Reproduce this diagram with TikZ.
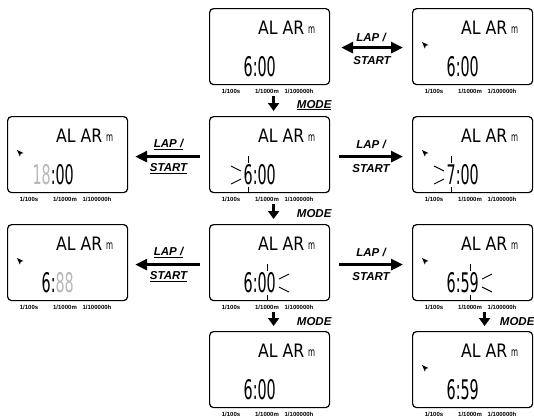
\documentclass[tikz,border=0pt]{standalone}
\usepackage{fontspec}
\usetikzlibrary{arrows.meta,calc}
\newfontfamily\lcdtime[FakeStretch=0.53]{DejaVu Sans}
\newfontfamily\lcdalarm[FakeStretch=0.85]{DejaVu Sans}
\newfontfamily\lcdm[FakeStretch=0.6]{DejaVu Sans}
\newfontfamily\lblfont{Liberation Sans}
\definecolor{lcdgray}{gray}{0.72}
\newcommand\ulbl[1]{\setbox0\hbox{#1}\rlap{\rule[-2.2pt]{\wd0}{1.1pt}}\box0}
\tikzset{
  lcdbox/.style={draw, line width=1.2pt, rounded corners=4pt, minimum width=120pt,
    minimum height=76pt, inner sep=0pt, anchor=north west},
  alarmtxt/.style={font=\lcdalarm\fontsize{18.5}{18.5}\selectfont, inner sep=0pt, anchor=base west},
  mtxt/.style={font=\lcdm\fontsize{12}{12}\selectfont, inner sep=0pt, anchor=base west},
  timetxt/.style={font=\lcdtime\fontsize{27}{27}\selectfont, inner sep=0pt, anchor=base east},
  foot/.style={font=\lblfont\bfseries\fontsize{6}{6.5}\selectfont, inner sep=0pt, anchor=base},
  lbl/.style={font=\lblfont\bfseries\itshape\fontsize{11.5}{12}\selectfont, inner sep=0pt},
  harrow/.style={line width=3.6pt, -{Triangle[length=12pt,width=11pt]}},
  dblarrow/.style={line width=3.6pt, {Triangle[length=12pt,width=11pt]}-{Triangle[length=12pt,width=11pt]}},
  varrow/.style={line width=3pt, -{Triangle[length=8pt,width=11pt]}},
  ray/.style={line width=0.9pt},
}
% name, x, y, time text, extras (drawn in box-local coordinates)
\newcommand\lcdpanel[5]{%
  \node[lcdbox] (#1) at (#2,#3) {};
  \begin{scope}[shift={(#2,#3)}]
    \node[alarmtxt] (#1al) at (49,26) {AL AR};
    \node[mtxt] (#1m) at (99,25) {m};
    \node[timetxt] (#1t) at (67,68) {#4};
    \node[foot] (#1f1) at (22,85) {1/100s};
    \node[foot] (#1f2) at (58,85) {1/1000m};
    \node[foot] (#1f3) at (90,85) {1/100000h};
    #5
  \end{scope}}
\newcommand\lcdcursor{\fill (10,34) -- (16.5,37) -- (13.8,37.8) -- (12.8,40.5) -- cycle;}
\newcommand\blinkleft{%
  \draw[ray] (32,55) -- (22,50); \draw[ray] (32,63) -- (22,68);
  \draw[ray] (39,40) -- (39,47); \draw[ray] (39,71) -- (39,77);}
\newcommand\blinkright{%
  \draw[ray] (70,55) -- (80,50); \draw[ray] (70,63) -- (80,68);
  \draw[ray] (58,40) -- (58,47); \draw[ray] (58,71) -- (58,77);}
\begin{document}
\begin{tikzpicture}[x=1pt,y=-1pt]
\useasboundingbox (0,0) rectangle (534,418);
% row 0
\lcdpanel{b1}{209}{8}{6:00}{}
\lcdpanel{b2}{412}{8}{6:00}{\lcdcursor}
% row 1
\lcdpanel{b3}{7}{116}{\textcolor{lcdgray}{18}:00}{\lcdcursor}
\lcdpanel{b4}{209}{116}{6:00}{\blinkleft}
\lcdpanel{b5}{412}{116}{7:00}{\lcdcursor\blinkleft}
% row 2
\lcdpanel{b6}{7}{224}{6:\textcolor{lcdgray}{88}}{\lcdcursor}
\lcdpanel{b7}{209}{224}{6:00}{\blinkright}
\lcdpanel{b8}{412}{224}{6:59}{\lcdcursor\blinkright}
% row 3
\lcdpanel{b9}{209}{331}{6:00}{}
\lcdpanel{b10}{412}{331}{6:59}{\lcdcursor}

% horizontal arrows
\draw[dblarrow, shorten <=11pt, shorten >=9pt] ([yshift=-1pt]b1.east) -- ([yshift=-1pt]b2.west);
\draw[harrow, shorten <=9pt, shorten >=7pt] ([yshift=-2pt]b4.west) -- ([yshift=-2pt]b3.east);
\draw[harrow, shorten <=9pt, shorten >=9pt] ([yshift=-2pt]b4.east) -- ([yshift=-2pt]b5.west);
\draw[harrow, shorten <=9pt, shorten >=7pt] ([yshift=-2pt]b7.west) -- ([yshift=-2pt]b6.east);
\draw[harrow, shorten <=9pt, shorten >=9pt] ([yshift=-2pt]b7.east) -- ([yshift=-2pt]b8.west);

% LAP / START labels
\node[lbl] (l1a) at ($(b1.east)!0.5!(b2.west)+(0,-9)$) {LAP /};
\node[lbl] (l1b) at ($(b1.east)!0.5!(b2.west)+(1,14)$) {START};
\node[lbl] (l2a) at ($(b3.east)!0.5!(b4.west)+(0,-10)$) {\ulbl{LAP /}};
\node[lbl] (l2b) at ($(b3.east)!0.5!(b4.west)+(0,14)$) {\ulbl{START}};
\node[lbl] (l3a) at ($(b4.east)!0.5!(b5.west)+(0,-10)$) {LAP /};
\node[lbl] (l3b) at ($(b4.east)!0.5!(b5.west)+(0,14)$) {START};
\node[lbl] (l4a) at ($(b6.east)!0.5!(b7.west)+(0,-10)$) {\ulbl{LAP /}};
\node[lbl] (l4b) at ($(b6.east)!0.5!(b7.west)+(0,14)$) {\ulbl{START}};
\node[lbl] (l5a) at ($(b7.east)!0.5!(b8.west)+(0,-10)$) {LAP /};
\node[lbl] (l5b) at ($(b7.east)!0.5!(b8.west)+(0,14)$) {START};

% down arrows
\draw[varrow, shorten <=11pt, shorten >=5pt] ([xshift=4pt]b1.south) -- ([xshift=4pt]b4.north);
\draw[varrow, shorten <=11pt, shorten >=5pt] ([xshift=4pt]b4.south) -- ([xshift=4pt]b7.north);
\draw[varrow, shorten <=11pt, shorten >=5pt] ([xshift=4pt]b7.south) -- ([xshift=4pt]b9.north);
\draw[varrow, shorten <=11pt, shorten >=5pt] ([xshift=12pt]b8.south) -- ([xshift=12pt]b10.north);

% MODE labels
\node[lbl] (m1) at ($(b1.south east)+(-16,20)$) {\ulbl{MODE}};
\node[lbl] (m2) at ($(b4.south east)+(-16,20)$) {MODE};
\node[lbl] (m3) at ($(b7.south east)+(-16,20)$) {MODE};
\node[lbl] (m4) at ($(b8.south east)+(-16,20)$) {MODE};
\end{tikzpicture}
\end{document}
